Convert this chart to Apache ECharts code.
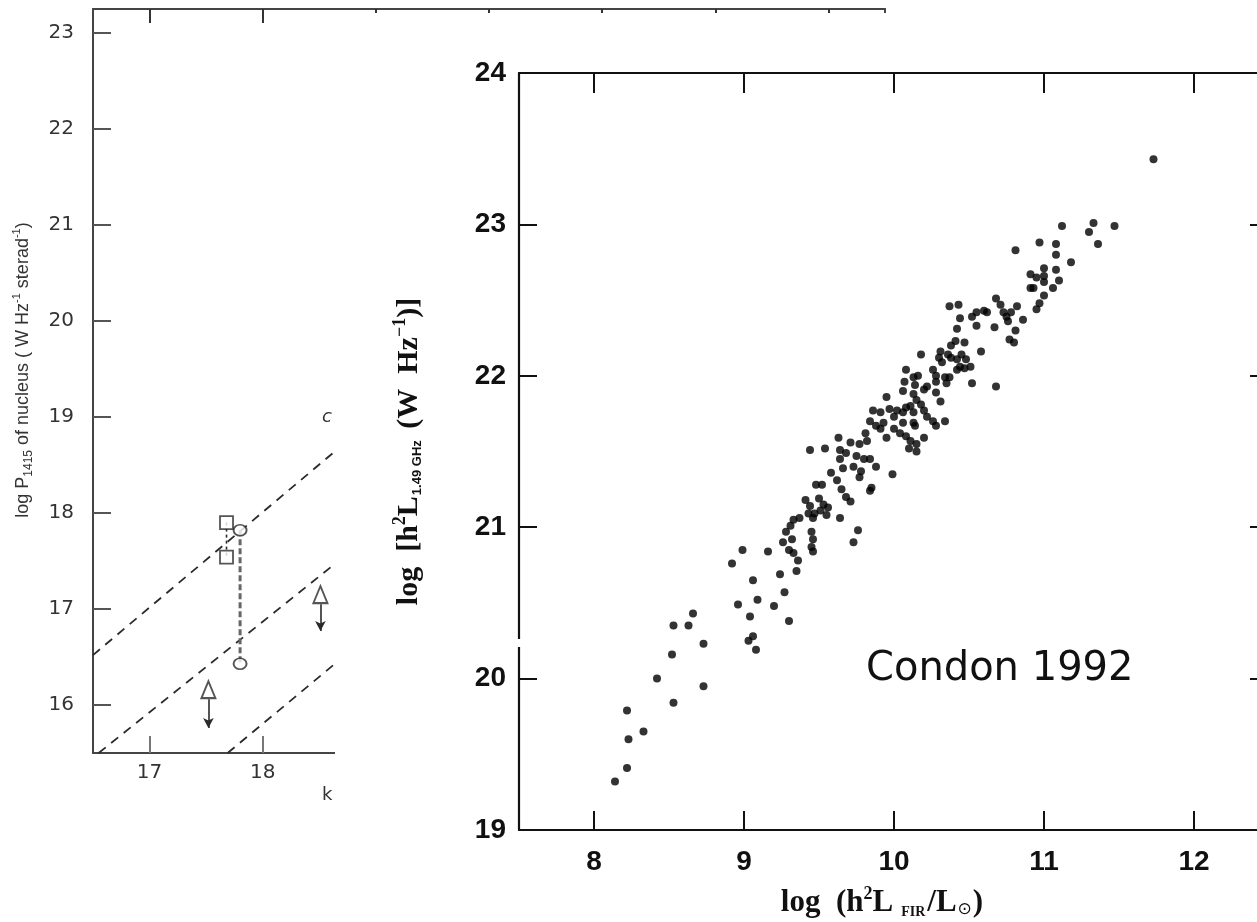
<!DOCTYPE html>
<html><head><meta charset="utf-8">
<script src="https://cdn.jsdelivr.net/npm/echarts@6/dist/echarts.min.js"></script>
<style>html,body{margin:0;padding:0;background:#fff}#c{width:1257px;height:922px}</style>
</head><body><div id="c"></div>
<script>
// ---------- background (left, partly covered) chart ----------
const bgXTicks = [17, 18, 19, 20, 21, 22, 23];
const bgYTicks = [16, 17, 18, 19, 20, 21, 22, 23];
const bgLineA = [[16.5, 16.52], [19.2, 19.2]];
const bgLineB = [[16.55, 15.5], [19.2, 18.0]];
const bgLineC = [[17.69, 15.5], [19.2, 16.98]];
const bgSquares = [[17.68, 17.9], [17.68, 17.54]];
const bgCircles = [[17.8, 17.82], [17.8, 16.43]];
const bgTriangles = [[17.52, 16.16], [18.51, 17.15]];
const bgArrowTips = [15.76, 16.77];

// ---------- main chart: Condon 1992 ----------
const xTicks = [8, 9, 10, 11, 12];
const yTicks = [19, 20, 21, 22, 23, 24];
// [log(h^2 L_FIR / L_sun), log(h^2 L_1.49GHz)]
const condonPoints = [
 [8.14,19.32],[8.22,19.41],[8.23,19.60],[8.22,19.79],[8.33,19.65],[8.42,20.00],[8.53,19.84],[8.52,20.16],
 [8.53,20.35],[8.63,20.35],[8.66,20.43],[8.73,20.23],[8.73,19.95],[8.92,20.76],[8.96,20.49],[9.06,20.65],
 [9.09,20.52],[9.04,20.41],[9.06,20.28],[9.03,20.25],[9.08,20.19],[9.20,20.48],[9.24,20.69],[8.99,20.85],
 [9.16,20.84],[9.27,20.57],[9.30,20.38],[9.35,20.71],[9.36,20.78],[9.28,20.97],[9.32,20.92],[9.26,20.90],
 [9.30,20.85],[9.33,20.83],[9.31,21.01],[9.33,21.05],[9.37,21.06],[9.45,20.97],[9.46,20.92],[9.45,20.87],
 [9.46,20.84],[9.41,21.18],[9.44,21.14],[9.50,21.19],[9.53,21.15],[9.56,21.13],[9.55,21.08],[9.51,21.11],
 [9.47,21.09],[9.43,21.09],[9.46,21.06],[9.64,21.06],[9.76,20.98],[9.73,20.90],[9.48,21.28],[9.52,21.28],
 [9.65,21.25],[9.68,21.20],[9.71,21.17],[9.84,21.24],[9.85,21.26],[9.81,21.62],[9.82,21.57],[9.77,21.55],
 [9.71,21.56],[9.64,21.51],[9.63,21.59],[9.44,21.51],[9.54,21.52],[9.68,21.49],[9.75,21.47],[9.80,21.45],
 [9.84,21.45],[9.88,21.40],[9.78,21.37],[9.73,21.40],[9.64,21.45],[9.66,21.39],[9.58,21.36],[9.62,21.31],
 [9.77,21.33],[9.84,21.70],[9.88,21.67],[9.91,21.65],[9.95,21.59],[10.00,21.65],[10.04,21.62],[10.08,21.60],
 [10.11,21.57],[10.15,21.55],[10.20,21.59],[10.10,21.52],[10.15,21.50],[9.86,21.77],[9.91,21.76],[9.97,21.78],
 [10.02,21.77],[10.06,21.76],[10.08,21.79],[10.00,21.73],[10.06,21.69],[10.13,21.69],[10.13,21.76],[10.20,21.77],
 [10.22,21.73],[10.26,21.70],[10.28,21.67],[10.34,21.70],[9.99,21.35],[9.95,21.86],[10.06,21.90],[10.13,21.88],
 [10.15,21.84],[10.20,21.91],[10.28,21.89],[10.31,21.83],[10.52,21.95],[10.07,21.96],[10.14,21.94],[10.22,21.93],
 [10.28,21.96],[10.35,21.95],[10.08,22.04],[10.26,22.04],[10.28,22.00],[10.34,21.99],[10.37,21.99],[10.13,21.99],
 [10.16,22.00],[10.18,21.81],[10.11,21.80],[10.14,21.67],[9.93,21.69],[10.41,22.23],[10.47,22.22],[10.38,22.20],
 [10.36,22.14],[10.38,22.12],[10.42,22.11],[10.45,22.14],[10.48,22.11],[10.44,22.06],[10.47,22.05],[10.51,22.06],
 [10.42,22.04],[10.31,22.16],[10.30,22.12],[10.32,22.09],[10.58,22.16],[10.18,22.14],[10.68,21.93],[10.37,22.46],
 [10.43,22.47],[10.44,22.38],[10.52,22.39],[10.55,22.42],[10.60,22.43],[10.62,22.42],[10.55,22.33],[10.42,22.31],
 [10.68,22.51],[10.71,22.47],[10.73,22.42],[10.75,22.39],[10.76,22.36],[10.78,22.42],[10.82,22.46],[10.86,22.37],
 [10.67,22.32],[10.81,22.30],[10.77,22.24],[10.80,22.22],[10.93,22.58],[11.00,22.62],[11.06,22.58],[11.10,22.63],
 [11.00,22.53],[10.97,22.48],[10.95,22.44],[11.12,22.99],[11.33,23.01],[11.30,22.95],[11.47,22.99],[11.36,22.87],
 [10.97,22.88],[11.08,22.87],[11.08,22.80],[10.81,22.83],[11.18,22.75],[11.00,22.71],[11.08,22.70],[11.00,22.66],
 [10.91,22.67],[10.95,22.65],[10.91,22.58],[11.73,23.43]
];

const chart = echarts.init(document.getElementById('c'), null, {renderer: 'canvas'});
const bgInk = '#2a2a2a';
const ink = '#111';
const serif = 'Liberation Serif';

function bgAxisBase(extra) {
  return Object.assign({
    gridIndex: 0, type: 'value', zlevel: 0, splitLine: {show: false},
    axisLine: {lineStyle: {color: '#444', width: 2}}
  }, extra);
}
function mainAxisBase(extra) {
  return Object.assign({
    gridIndex: 1, type: 'value', zlevel: 2, splitLine: {show: false},
    axisLine: {lineStyle: {color: ink, width: 2.2}}
  }, extra);
}
const xNameRich = {
  a: {fontFamily: serif, fontSize: 31, fontWeight: 'bold', color: ink, lineHeight: 36},
  sup: {fontFamily: serif, fontSize: 18, fontWeight: 'bold', color: ink, lineHeight: 36, verticalAlign: 'top'},
  sub: {fontFamily: serif, fontSize: 14, fontWeight: 'bold', color: ink, lineHeight: 36, verticalAlign: 'bottom', padding: [0, 2, 2, 8]},
  sun: {fontFamily: 'DejaVu Sans', fontSize: 17, color: ink, lineHeight: 36, verticalAlign: 'bottom', padding: [0, 1, 3, 1]}
};
const yNameRich = {
  a: {fontFamily: serif, fontSize: 30, fontWeight: 'bold', color: ink, lineHeight: 36},
  sup: {fontFamily: serif, fontSize: 18, fontWeight: 'bold', color: ink, lineHeight: 36, verticalAlign: 'top'},
  subs: {fontFamily: 'Liberation Sans', fontSize: 13, fontWeight: 'bold', color: ink, lineHeight: 36, verticalAlign: 'bottom', padding: [0, 4, 3, 1]}
};

const option = {
  animation: false,
  backgroundColor: '#fff',
  grid: [
    {left: 93, top: 9, width: 792, height: 744, outerBoundsMode: 'none', zlevel: 0},
    {left: 519, top: 73, width: 750, height: 757, outerBoundsMode: 'none', zlevel: 2}
  ],
  xAxis: [
    bgAxisBase({min: 16.5, max: 23.5, position: 'bottom',
      axisTick: {inside: true, length: 17, customValues: bgXTicks, lineStyle: {color: '#777', width: 2}},
      axisLabel: {customValues: bgXTicks, margin: 10, fontFamily: 'DejaVu Sans', fontSize: 20, color: '#333'}}),
    bgAxisBase({min: 16.5, max: 23.5, position: 'top',
      axisTick: {inside: true, length: 14, customValues: bgXTicks, lineStyle: {color: '#333', width: 2}},
      axisLabel: {show: false}}),
    mainAxisBase({min: 7.5, max: 12.5, position: 'bottom',
      axisTick: {inside: true, length: 19, customValues: xTicks, lineStyle: {color: ink, width: 2}},
      axisLabel: {customValues: xTicks, margin: 18, fontFamily: 'Liberation Sans', fontWeight: 'bold', fontSize: 28, color: ink},
      name: '{a|log  (h}{sup|2}{a|L}{sub|FIR}{a|/L}{sun|⊙}{a|)}',
      nameLocation: 'middle', nameGap: 55,
      nameTextStyle: {padding: [0, 24, 0, 0], rich: xNameRich}}),
    mainAxisBase({min: 7.5, max: 12.5, position: 'top',
      axisTick: {inside: true, length: 20, customValues: xTicks, lineStyle: {color: ink, width: 2}},
      axisLabel: {show: false}})
  ],
  yAxis: [
    bgAxisBase({min: 15.5, max: 23.25, position: 'left',
      axisTick: {inside: true, length: 18, customValues: bgYTicks, lineStyle: {color: '#555', width: 2}},
      axisLabel: {customValues: bgYTicks, margin: 19, fontFamily: 'DejaVu Sans', fontSize: 20, color: '#333'},
      name: '{a|log P}{s|1415}{a| of nucleus ( W Hz}{p|-1}{a| sterad}{p|-1}{a|)}',
      nameLocation: 'middle', nameGap: 58,
      nameTextStyle: {padding: [0, 0, 0, 22], rich: {
        a: {fontFamily: 'Liberation Sans', fontSize: 18, color: '#333', lineHeight: 24},
        s: {fontFamily: 'Liberation Sans', fontSize: 12, color: '#333', lineHeight: 24, verticalAlign: 'bottom'},
        p: {fontFamily: 'Liberation Sans', fontSize: 11, color: '#333', lineHeight: 24, verticalAlign: 'top'}
      }}}),
    bgAxisBase({min: 15.5, max: 23.25, position: 'right',
      axisTick: {show: false}, axisLabel: {show: false}}),
    mainAxisBase({min: 19, max: 24, interval: 1, position: 'left',
      axisTick: {inside: true, length: 18, lineStyle: {color: ink, width: 2}},
      axisLabel: {margin: 13, fontFamily: 'Liberation Sans', fontWeight: 'bold', fontSize: 28, color: ink},
      name: '{a|log  [h}{sup|2}{a|L}{subs|1.49 GHz}{a| (W  Hz}{sup|−1}{a|)]}',
      nameLocation: 'middle', nameGap: 92,
      nameTextStyle: {rich: yNameRich}}),
    mainAxisBase({min: 19, max: 24, interval: 1, position: 'right',
      axisTick: {inside: true, length: 19, lineStyle: {color: ink, width: 2}},
      axisLabel: {show: false}})
  ],
  series: [
    {type: 'line', xAxisIndex: 0, yAxisIndex: 0, zlevel: 0, z: 2, data: bgLineA, symbol: 'none', silent: true,
     lineStyle: {color: bgInk, width: 1.8, type: [9, 7]}},
    {type: 'line', xAxisIndex: 0, yAxisIndex: 0, zlevel: 0, z: 2, data: bgLineB, symbol: 'none', silent: true,
     lineStyle: {color: bgInk, width: 1.8, type: [9, 7]}},
    {type: 'line', xAxisIndex: 0, yAxisIndex: 0, zlevel: 0, z: 2, data: bgLineC, symbol: 'none', silent: true,
     lineStyle: {color: bgInk, width: 1.8, type: [9, 7]}},
    {type: 'line', xAxisIndex: 0, yAxisIndex: 0, zlevel: 0, z: 2, data: bgSquares, symbol: 'none', silent: true,
     lineStyle: {color: bgInk, width: 1.6, type: [3, 3]}},
    {type: 'line', xAxisIndex: 0, yAxisIndex: 0, zlevel: 0, z: 2, data: bgCircles, symbol: 'none', silent: true,
     lineStyle: {color: '#666', width: 3, type: [6, 3]}},
    {type: 'scatter', xAxisIndex: 0, yAxisIndex: 0, zlevel: 0, z: 3, data: bgSquares, symbol: 'rect', symbolSize: 13,
     itemStyle: {color: '#fff', borderColor: bgInk, borderWidth: 1.8}},
    {type: 'scatter', xAxisIndex: 0, yAxisIndex: 0, zlevel: 0, z: 3, data: bgCircles, symbol: 'circle', symbolSize: [13, 11],
     itemStyle: {color: '#fff', borderColor: bgInk, borderWidth: 1.8}},
    {type: 'scatter', xAxisIndex: 0, yAxisIndex: 0, zlevel: 0, z: 3, data: bgTriangles, symbol: 'triangle', symbolSize: [14, 17],
     itemStyle: {color: '#fff', borderColor: bgInk, borderWidth: 2},
     markLine: {silent: true, symbol: ['none', 'arrow'], symbolSize: [8, 10], label: {show: false},
       lineStyle: {color: bgInk, width: 1.6, type: 'solid'},
       data: bgTriangles.map((t, i) => [{coord: [t[0], t[1] - 0.1]}, {coord: [t[0], bgArrowTips[i]]}])}},
    {type: 'scatter', xAxisIndex: 2, yAxisIndex: 2, zlevel: 2, z: 5, data: condonPoints, symbol: 'circle', symbolSize: 8,
     itemStyle: {color: '#000'}}
  ],
  graphic: [
    {type: 'text', zlevel: 0, left: 322, top: 408, style: {text: 'c', font: 'italic 18px "DejaVu Sans"', fill: '#333'}},
    {type: 'text', zlevel: 0, left: 322, top: 786, style: {text: 'k', font: '18px "DejaVu Sans"', fill: '#333'}},
    {type: 'rect', zlevel: 1, shape: {x: 335, y: 13, width: 930, height: 912}, style: {fill: '#fff'}},
    {type: 'rect', zlevel: 3, shape: {x: 514, y: 639, width: 10, height: 8}, style: {fill: '#fff'}},
    {type: 'text', zlevel: 3, x: 866, y: 670, style: {text: 'Condon 1992', font: '40px "DejaVu Sans"', fill: '#111', verticalAlign: 'middle'}}
  ]
};
chart.setOption(option);
</script>
</body></html>
